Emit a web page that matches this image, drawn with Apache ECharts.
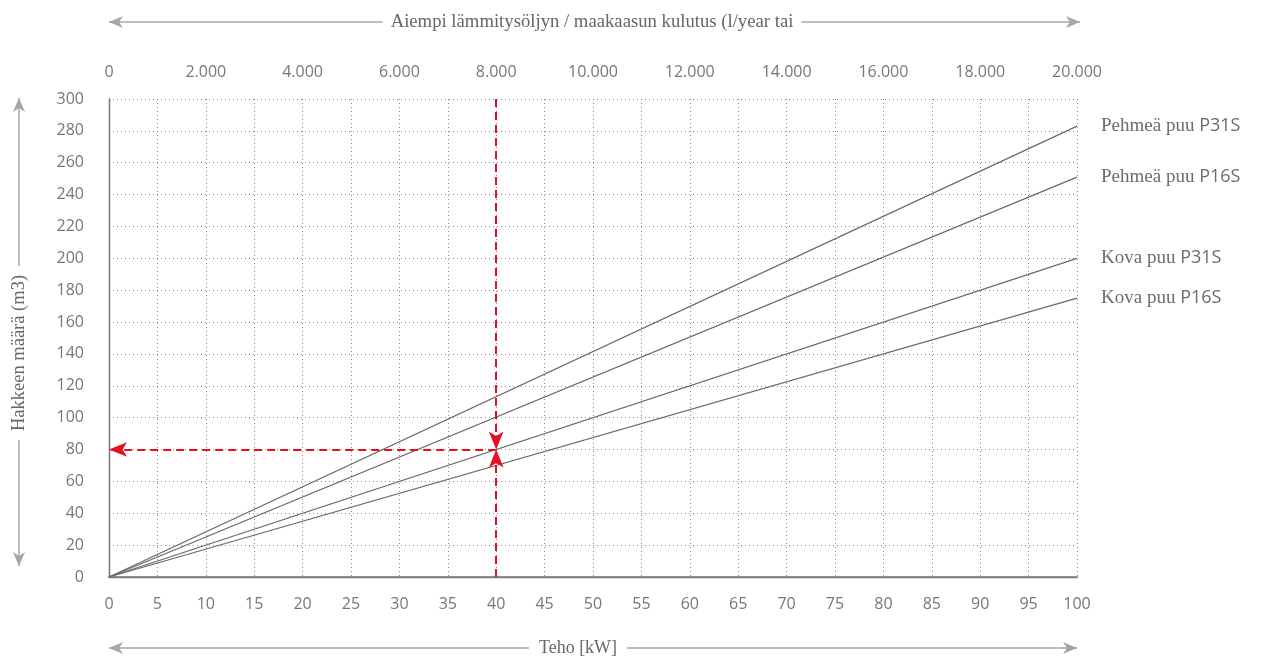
<!DOCTYPE html>
<html>
<head>
<meta charset="utf-8">
<script src="https://cdn.jsdelivr.net/npm/echarts@6/dist/echarts.min.js"></script>
<style>
html,body{margin:0;padding:0;background:#fff;}
#chart{width:1262px;height:657px;}
</style>
</head>
<body>
<div id="chart"></div>
<script>
// ---- data ----
const power = [0, 100];                      // kW (bottom axis)
const softP31S = [0, 283];
const softP16S = [0, 251];
const hardP31S = [0, 200];
const hardP16S = [0, 175];
const seriesNames = [
  ['Pehmeä puu ', 'P31S'],
  ['Pehmeä puu ', 'P16S'],
  ['Kova puu ', 'P31S'],
  ['Kova puu ', 'P16S']
];
const seriesValues = [softP31S, softP16S, hardP31S, hardP16S];
const exampleX = 40;   // example power
const exampleY = 80;   // resulting volume
const bottomTicks = { min: 0, max: 100, interval: 5 };
const topTicks = { min: 0, max: 20000, interval: 2000 };
const leftTicks = { min: 0, max: 300, interval: 20 };
const topTitle = 'Aiempi lämmitysöljyn / maakaasun kulutus (l/year tai';
const bottomTitle = 'Teho [kW]';
const leftTitle = 'Hakkeen määrä (m3)';

const SERIF = '"Liberation Serif", "DejaVu Serif", serif';
const SANS = '"Open Sans", "Noto Sans", sans-serif';
const GL = 109, GT = 99, GR = 1077, GB = 577;

const chart = echarts.init(document.getElementById('chart'), null, {renderer: 'canvas'});

const lineSeries = seriesValues.map((vals, i) => ({
  type: 'line',
  name: seriesNames[i].join(''),
  xAxisIndex: 0,
  data: power.map((p, k) => [p, vals[k]]),
  symbol: 'none',
  lineStyle: { color: '#6b6b6b', width: 1.3 },
  silent: true,
  endLabel: {
    show: true,
    distance: 24,
    formatter: () => '{a|' + seriesNames[i][0] + '}{b|' + seriesNames[i][1] + '}',
    rich: {
      a: { fontFamily: SERIF, fontSize: 19, color: '#6b6b6b' },
      b: { fontFamily: SANS, fontSize: 18, color: '#6b6b6b' }
    }
  },
  z: 3
}));

const red = '#e3101f';
lineSeries.push({
  type: 'line',
  data: [],
  xAxisIndex: 0,
  markLine: {
    silent: true,
    animation: false,
    label: { show: false },
    lineStyle: { color: red, type: [8, 5], width: 2 },
    symbol: ['none', 'arrow'],
    symbolSize: [11, 18],
    data: [
      [{ coord: [exampleX, leftTicks.max] }, { coord: [exampleX, exampleY] }],
      [{ coord: [exampleX, leftTicks.min] }, { coord: [exampleX, exampleY] }],
      [{ coord: [exampleX, exampleY] }, { coord: [bottomTicks.min, exampleY] }]
    ]
  },
  z: 5
});

function arrowLine(x1, y1, x2, y2) {
  const els = [];
  els.push({ type: 'line', shape: { x1, y1, x2, y2 }, style: { stroke: '#a6a6a6', lineWidth: 1.5 }, silent: true });
  const L = 14, W = 6;
  const head = (tx, ty, dx, dy) => {
    const px = -dy, py = dx;
    return { type: 'polygon', shape: { points: [
      [tx, ty],
      [tx - dx * L + px * W, ty - dy * L + py * W],
      [tx - dx * (L - 4), ty - dy * (L - 4)],
      [tx - dx * L - px * W, ty - dy * L - py * W]
    ] }, style: { fill: '#a6a6a6' }, silent: true };
  };
  const len = Math.hypot(x2 - x1, y2 - y1);
  const dx = (x2 - x1) / len, dy = (y2 - y1) / len;
  els.push(head(x1, y1, -dx, -dy));
  els.push(head(x2, y2, dx, dy));
  return els;
}

const graphics = [];
graphics.push(...arrowLine(109, 22, 1080, 22));
graphics.push({ type: 'text', x: 592, y: 22, style: { text: topTitle, font: '18.7px ' + SERIF, fill: '#666', align: 'center', verticalAlign: 'middle', backgroundColor: '#fff', padding: [0, 8] }, z: 10, silent: true });
graphics.push(...arrowLine(109, 648, 1077, 648));
graphics.push({ type: 'text', x: 578, y: 648, style: { text: bottomTitle, font: '18px ' + SERIF, fill: '#666', align: 'center', verticalAlign: 'middle', backgroundColor: '#fff', padding: [0, 10] }, z: 10, silent: true });
graphics.push(...arrowLine(19, 98, 19, 566));
graphics.push({ type: 'text', x: 19, y: 353, rotation: Math.PI / 2, style: { text: leftTitle, font: '18.5px ' + SERIF, fill: '#666', align: 'center', verticalAlign: 'middle', backgroundColor: '#fff', padding: [0, 9] }, z: 10, silent: true });

const option = {
  animation: false,
  backgroundColor: '#fff',
  grid: { left: GL, top: GT, right: 1262 - GR, bottom: 657 - GB, containLabel: false, show: false },
  xAxis: [
    {
      type: 'value', position: 'bottom',
      min: bottomTicks.min, max: bottomTicks.max, interval: bottomTicks.interval,
      axisLine: { show: true, onZero: false, lineStyle: { color: '#9a9a9a', width: 2 } },
      axisTick: { show: false },
      axisLabel: { color: '#777', fontFamily: SANS, fontSize: 16, margin: 19 },
      splitLine: { show: true, lineStyle: { color: '#8a8a8a', type: [1, 3], width: 1 } }
    },
    {
      type: 'value', position: 'top',
      min: topTicks.min, max: topTicks.max, interval: topTicks.interval,
      axisLine: { show: true, lineStyle: { color: '#7a7a7a', width: 1.3 } },
      axisTick: { show: false },
      axisLabel: {
        color: '#777', fontFamily: SANS, fontSize: 16, margin: 19,
        formatter: v => v.toString().replace(/\B(?=(\d{3})+(?!\d))/g, '.')
      },
      splitLine: { show: false }
    }
  ],
  yAxis: [
    {
      type: 'value', position: 'left',
      min: leftTicks.min, max: leftTicks.max, interval: leftTicks.interval,
      axisLine: { show: true, lineStyle: { color: '#7a7a7a', width: 1.3 } },
      axisTick: { show: false },
      axisLabel: { color: '#777', fontFamily: SANS, fontSize: 16, margin: 25 },
      splitLine: { show: true, lineStyle: { color: '#8a8a8a', type: [1, 3], width: 1 } }
    },
    {
      type: 'value', position: 'right',
      min: leftTicks.min, max: leftTicks.max, interval: leftTicks.interval,
      axisLine: { show: true, lineStyle: { color: '#7a7a7a', width: 1.3 } },
      axisTick: { show: false },
      axisLabel: { show: false },
      splitLine: { show: false }
    }
  ],
  series: lineSeries,
  graphic: graphics
};
chart.setOption(option);
</script>
</body>
</html>
